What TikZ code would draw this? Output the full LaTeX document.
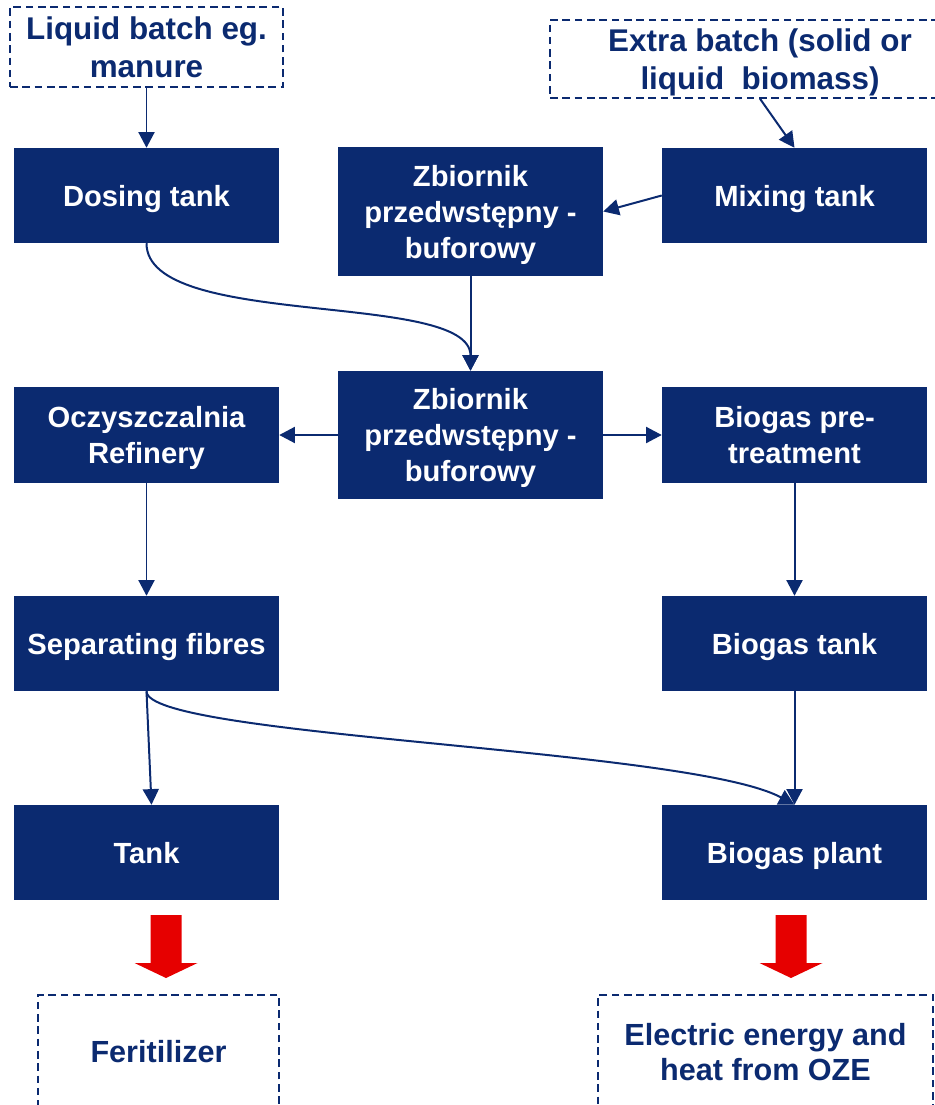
\documentclass[tikz,border=0pt]{standalone}
\usepackage{fontspec}
\setmainfont{Liberation Sans}
\usetikzlibrary{arrows.meta,calc}
\definecolor{navy}{RGB}{11,42,112}
\definecolor{flowred}{RGB}{230,0,0}

\begin{document}
\begin{tikzpicture}[x=0.03cm,y=-0.03cm,>={Triangle[length=0.47cm,width=0.48cm]},
    box/.style={fill=navy,text=white,align=center,inner sep=0pt,text depth=0pt,minimum width=7.95cm,minimum height=2.85cm,font=\bfseries\fontsize{24.9}{30.7}\selectfont},
    tallbox/.style={box,minimum height=3.84cm},
    dbox/.style={draw=navy,line width=1.3pt,dash pattern=on 6.5pt off 4pt,text=navy,align=center,inner sep=0pt,font=\bfseries\fontsize{26.8}{32.3}\selectfont},
    link/.style={->,color=navy,line width=1.7pt}]
  \useasboundingbox (0,0) rectangle (935,1105);
  % inputs
  \node[dbox,minimum width=8.19cm,minimum height=2.4cm] (liq) at (146.5,47) {Liquid batch eg.\\manure};
  \node[dbox,text depth=0pt,minimum width=12.6cm,minimum height=2.34cm] (ext) at (760,59) {Extra batch (solid or\\liquid\ \ biomass)};
  % tanks
  \node[box] (dose) at (146.5,195.5) {Dosing tank};
  \node[tallbox] (zb1) at (470.5,211.5) {Zbiornik\\przedwstępny -\\buforowy};
  \node[box] (mix) at (794.5,195.5) {Mixing tank};
  \node[box] (ocz) at (146.5,435) {Oczyszczalnia\\Refinery};
  \node[tallbox] (zb2) at (470.5,435) {Zbiornik\\przedwstępny -\\buforowy};
  \node[box] (pre) at (794.5,435) {Biogas pre-\\treatment};
  \node[box] (sep) at (146.5,643.5) {Separating fibres};
  \node[box] (btank) at (794.5,643.5) {Biogas tank};
  \node[box] (tank) at (146.5,852.5) {Tank};
  \node[box] (plant) at (794.5,852.5) {Biogas plant};
  % outputs
  \node[dbox,minimum width=7.23cm,minimum height=3.42cm,font=\bfseries\fontsize{26.1}{30.5}\selectfont] (fert) at (158.5,1052) {Feritilizer};
  \node[dbox,minimum width=10.05cm,minimum height=3.42cm,font=\bfseries\fontsize{26.1}{30.5}\selectfont] (elec) at (765.5,1052) {Electric energy and\\heat from OZE};

  \draw[link] (liq) -- (dose);
  \draw[link] (ext.south) -- (mix.north);
  \draw[link] (mix.west) -- (zb1.east);
  \draw[link] (dose.south) .. controls +(0,87) and +(0,-81) .. (zb2.north);
  \draw[link] (zb1) -- (zb2);
  \draw[link] (zb2) -- (ocz);
  \draw[link] (zb2) -- (pre);
  \draw[link] (ocz) -- (sep);
  \draw[link] (pre) -- (btank);
  \draw[link] (btank) -- (plant);
  \draw[link] (sep.south) -- ($(tank.north)+(5,0)$);
  \draw[link] (sep.south) .. controls +(0,46) and (690,748) .. (plant.north);

  % red arrows
  \foreach \cx in {166,791}
    \fill[flowred] (\cx-15.5,915) -- (\cx+15.5,915) -- (\cx+15.5,963) -- (\cx+31.5,963)
      -- (\cx,978) -- (\cx-31.5,963) -- (\cx-15.5,963) -- cycle;
\end{tikzpicture}
\end{document}
